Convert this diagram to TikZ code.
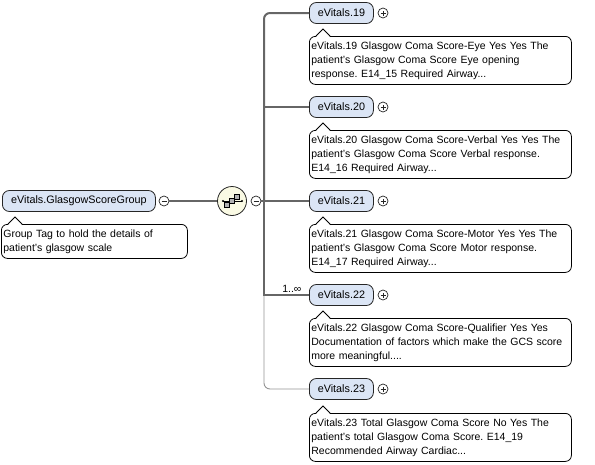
\documentclass[tikz,border=0pt]{standalone}
\usepackage{fontspec}
\setmainfont{Liberation Sans}
\usetikzlibrary{positioning}
\frenchspacing
\definecolor{elemblue}{HTML}{DBE5F5}
\definecolor{seqyellow}{HTML}{FAFAE4}
\definecolor{linegray}{HTML}{666666}
\newcommand{\notetip}[1]{%
\fill[white] ([xshift=7pt,yshift=-1pt]#1.north west) -- ([xshift=14pt,yshift=7pt]#1.north west) -- ([xshift=21pt,yshift=-1pt]#1.north west) -- cycle;
\draw[line width=0.8pt] ([xshift=7pt]#1.north west) -- ([xshift=14pt,yshift=7pt]#1.north west) -- ([xshift=21pt]#1.north west);}
\tikzset{
elem/.style={draw=black!85, fill=elemblue, rounded corners=7pt, minimum height=21pt, minimum width=64pt, inner sep=0pt, anchor=west, line width=0.8pt, font=\fontsize{10.8}{13}\selectfont},
note/.style={draw=black, fill=white, rounded corners=6pt, anchor=north west, text width=258pt, minimum height=48pt, align=left, inner xsep=2pt, inner ysep=3pt, line width=0.8pt, font=\fontsize{10.5}{14}\selectfont},
pm/.style={circle, draw=black!85, fill=white, inner sep=0pt, minimum size=10pt, line width=0.7pt},
plusnode/.style={pm, path picture={\draw[line width=0.6pt] ([xshift=-2.5pt]path picture bounding box.center) -- ([xshift=2.5pt]path picture bounding box.center) ([yshift=-2.5pt]path picture bounding box.center) -- ([yshift=2.5pt]path picture bounding box.center);}},
minusnode/.style={pm, path picture={\draw[line width=0.6pt] ([xshift=-2.5pt]path picture bounding box.center) -- ([xshift=2.5pt]path picture bounding box.center);}},
link/.style={linegray, line width=2pt},
optlink/.style={black!42, line width=0.9pt}
}
\begin{document}
\begin{tikzpicture}[x=1pt,y=-1pt]
\useasboundingbox (0,0) rectangle (595,464);
\node[elem, minimum width=153pt] (grp) at (2,201) {eVitals.GlasgowScoreGroup};
\node[minusnode] (grpm) at (164,201) {};
\node[circle, draw=black!85, fill=seqyellow, minimum size=29pt, inner sep=0pt, line width=0.8pt] (seq) at (232,201) {};
\node[minusnode] (seqm) at (256,201) {};
\coordinate (spine) at (264,201);
\node[note, text width=182pt, minimum height=34pt] (grpc) at (1,224) {Group Tag to hold the details of\\patient's glasgow scale};
\notetip{grpc}
% sequence icon
\draw[line width=0.8pt] (223,201) -- (242,201);
\fill (223,201) circle(1.2) (242,201) circle(1.2);
\draw[fill=gray!60, line width=0.6pt] (224.5,202.5) rectangle (229.5,207.5) (229.5,198.5) rectangle (234.5,203.5) (234.5,194.5) rectangle (239.5,199.5);
\node[elem] (e19) at (309,13) {eVitals.19};
\node[plusnode] (p19) at (383,13) {};
\node[note] (c19) at (309,36) {eVitals.19 Glasgow Coma Score-Eye Yes Yes The\\patient's Glasgow Coma Score Eye opening\\response. E14\_15 Required Airway...};
\notetip{c19}
\node[elem] (e20) at (309,107) {eVitals.20};
\node[plusnode] (p20) at (383,107) {};
\node[note] (c20) at (309,130) {eVitals.20 Glasgow Coma Score-Verbal Yes Yes The\\patient's Glasgow Coma Score Verbal response.\\E14\_16 Required Airway...};
\notetip{c20}
\node[elem] (e21) at (309,201) {eVitals.21};
\node[plusnode] (p21) at (383,201) {};
\node[note] (c21) at (309,224) {eVitals.21 Glasgow Coma Score-Motor Yes Yes The\\patient's Glasgow Coma Score Motor response.\\E14\_17 Required Airway...};
\notetip{c21}
\node[elem] (e22) at (309,295) {eVitals.22};
\node[plusnode] (p22) at (383,295) {};
\node[note] (c22) at (309,318) {eVitals.22 Glasgow Coma Score-Qualifier Yes Yes\\Documentation of factors which make the GCS score\\more meaningful....};
\notetip{c22}
\node[elem] (e23) at (309,389) {eVitals.23};
\node[plusnode] (p23) at (383,389) {};
\node[note] (c23) at (309,413) {eVitals.23 Total Glasgow Coma Score No Yes The\\patient's total Glasgow Coma Score. E14\_19\\Recommended Airway Cardiac...};
\notetip{c23}
% connectors
\draw[link] (grpm.east) -- (seq.west);
\draw[link] (seqm.east) -- (e21.west);
\draw[optlink, rounded corners=6pt] (spine |- e22.west) |- (e23.west);
\draw[link, rounded corners=6pt] (e19.west) -| (spine |- e21.west);
\draw[link] (spine |- e21.west) -- (spine |- e22.west) -- node[pos=0.62, above, inner sep=1.5pt, text=black, font=\fontsize{10.5}{12}\selectfont] {1..∞} (e22.west);
\draw[link] (spine |- e20.west) -- (e20.west);
\end{tikzpicture}
\end{document}
